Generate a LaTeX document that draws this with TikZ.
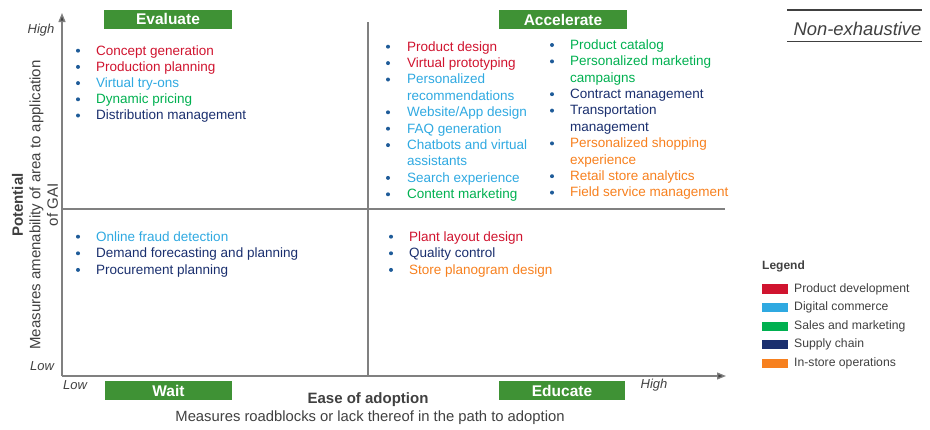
\documentclass[tikz,border=0pt]{standalone}
\usepackage{fontspec}
\setmainfont{Liberation Sans}
\usetikzlibrary{arrows.meta}
\definecolor{pdred}{HTML}{D0142F}
\definecolor{dcblue}{HTML}{2FA9E1}
\definecolor{smgreen}{HTML}{00B050}
\definecolor{scnavy}{HTML}{1A2F6E}
\definecolor{isorange}{HTML}{F7801E}
\definecolor{bulletc}{HTML}{1F5C99}
\definecolor{boxgreen}{HTML}{3F9235}
\definecolor{axisgray}{HTML}{808080}
\definecolor{txtgray}{HTML}{404040}
\newcommand\qitem[6]{\fill[bulletc] (#2,#4) circle (2pt); \node[itm,text=#5] (#1) at (#3,#4) {#6};}
\begin{document}
\begin{tikzpicture}[x=1pt,y=-1pt,
  itm/.style={anchor=west,inner sep=0pt,text height=10.6pt,text depth=2pt,font=\fontsize{13.5}{16}\selectfont},
  qbox/.style={fill=boxgreen,text=white,font=\bfseries\fontsize{15.5}{18}\selectfont,inner sep=0pt,minimum height=19pt},
  axis/.style={draw=axisgray,line width=1.3pt},
  divider/.style={draw=axisgray,line width=1.1pt},
  lvl/.style={font=\itshape\fontsize{13}{15}\selectfont,text=txtgray,inner sep=0pt},
  legtxt/.style={font=\fontsize{12.2}{14}\selectfont,text=txtgray,anchor=west,inner sep=0pt},
  swatch/.style={minimum width=26pt,minimum height=9.5pt,inner sep=0pt,anchor=west}]
\useasboundingbox (0,0) rectangle (930,429);
% axes
\coordinate (O) at (62,376);
\coordinate (Ytop) at (62,13);
\coordinate (Xend) at (726,376);
\coordinate (Vtop) at (368,22);
\coordinate (Vbot) at (368,376);
\coordinate (Hl) at (62,209);
\coordinate (Hr) at (725,209);
\draw[divider] (Vtop) -- (Vbot);
\draw[divider] (Hl) -- (Hr);
\draw[axis,-{Triangle[length=9pt,width=7pt,fill=txtgray]}] (O) -- (Ytop);
\draw[axis,-{Triangle[length=9pt,width=7pt,fill=txtgray]}] (O) -- (Xend);
% level labels
\node[lvl] (yhigh) at (41,30) {High};
\node[lvl] (ylow) at (42,366) {Low};
\node[lvl] (xlow) at (75,385) {Low};
\node[lvl] (xhigh) at (654,385) {High};
% quadrant boxes
\node[qbox,minimum width=128pt] (evaluate) at (168,19) {Evaluate};
\node[qbox,minimum width=128pt] (accelerate) at (563,19.5) {Accelerate};
\node[qbox,minimum width=127pt] (wait) at (168.5,390.5) {Wait};
\node[qbox,minimum width=126pt] (educate) at (562,390.5) {Educate};
% axis titles
\node[rotate=90,align=center,text=txtgray,font=\fontsize{15}{17.5}\selectfont,inner sep=0pt] (ylab) at (35,205)
  {\textbf{Potential}\\Measures amenability of area to application\\of GAI};
\node[text=txtgray,font=\bfseries\fontsize{15}{17}\selectfont,inner sep=0pt] (xlab) at (368,400) {Ease of adoption};
\node[text=txtgray,font=\fontsize{14.8}{17}\selectfont,inner sep=0pt] (xsub) at (370,418) {Measures roadblocks or lack thereof in the path to adoption};
% non-exhaustive
\coordinate (ne1) at (787,10);
\coordinate (ne2) at (922,10);
\coordinate (ne3) at (787,41.7);
\coordinate (ne4) at (922,41.7);
\draw[draw=txtgray,line width=1.2pt] (ne1) -- (ne2);
\draw[draw=txtgray,line width=1.2pt] (ne3) -- (ne4);
\node[font=\itshape\fontsize{18.4}{20}\selectfont,text=txtgray,inner sep=0pt] (nonex) at (857.5,28.5) {Non-exhaustive};
% upper left
\qitem{ul1}{78}{96}{50.7}{pdred}{Concept generation}
\qitem{ul2}{78}{96}{66.9}{pdred}{Production planning}
\qitem{ul3}{78}{96}{83.1}{dcblue}{Virtual try-ons}
\qitem{ul4}{78}{96}{99.3}{smgreen}{Dynamic pricing}
\qitem{ul5}{78}{96}{115.5}{scnavy}{Distribution management}
% upper right col 1
\qitem{ur1}{388}{407}{46.7}{pdred}{Product design}
\qitem{ur2}{388}{407}{63.1}{pdred}{Virtual prototyping}
\qitem{ur3}{388}{407}{79.5}{dcblue}{Personalized}
\node[itm,text=dcblue] (ur3b) at (407,95.9) {recommendations};
\qitem{ur4}{388}{407}{112.3}{dcblue}{Website/App design}
\qitem{ur5}{388}{407}{128.7}{dcblue}{FAQ generation}
\qitem{ur6}{388}{407}{145.1}{dcblue}{Chatbots and virtual}
\node[itm,text=dcblue] (ur6b) at (407,161.5) {assistants};
\qitem{ur7}{388}{407}{177.9}{dcblue}{Search experience}
\qitem{ur8}{388}{407}{194.3}{smgreen}{Content marketing}
% upper right col 2
\qitem{uc1}{552}{570}{45}{smgreen}{Product catalog}
\qitem{uc2}{552}{570}{61.4}{smgreen}{Personalized marketing}
\node[itm,text=smgreen] (uc2b) at (570,77.8) {campaigns};
\qitem{uc3}{552}{570}{94.2}{scnavy}{Contract management}
\qitem{uc4}{552}{570}{110.6}{scnavy}{Transportation}
\node[itm,text=scnavy] (uc4b) at (570,127) {management};
\qitem{uc5}{552}{570}{143.4}{isorange}{Personalized shopping}
\node[itm,text=isorange] (uc5b) at (570,159.8) {experience};
\qitem{uc6}{552}{570}{176.2}{isorange}{Retail store analytics}
\qitem{uc7}{552}{570}{192.6}{isorange}{Field service management}
% lower left
\qitem{ll1}{78}{96}{236.7}{dcblue}{Online fraud detection}
\qitem{ll2}{78}{96}{253.3}{scnavy}{Demand forecasting and planning}
\qitem{ll3}{78}{96}{269.9}{scnavy}{Procurement planning}
% lower right
\qitem{lr1}{391}{409}{236.7}{pdred}{Plant layout design}
\qitem{lr2}{391}{409}{253.3}{scnavy}{Quality control}
\qitem{lr3}{391}{409}{269.9}{isorange}{Store planogram design}
% legend
\node[font=\bfseries\fontsize{12}{14}\selectfont,text=txtgray,anchor=west,inner sep=0pt] (legend) at (762,266) {Legend};
\node[swatch,fill=pdred] (sw1) at (762,289) {};
\node[legtxt] (lg1) at (794,289) {Product development};
\node[swatch,fill=dcblue] (sw2) at (762,307.7) {};
\node[legtxt] (lg2) at (794,307.7) {Digital commerce};
\node[swatch,fill=smgreen] (sw3) at (762,326.5) {};
\node[legtxt] (lg3) at (794,326.5) {Sales and marketing};
\node[swatch,fill=scnavy] (sw4) at (762,344.5) {};
\node[legtxt] (lg4) at (794,344.5) {Supply chain};
\node[swatch,fill=isorange] (sw5) at (762,363.3) {};
\node[legtxt] (lg5) at (794,363.3) {In-store operations};
\end{tikzpicture}
\end{document}
